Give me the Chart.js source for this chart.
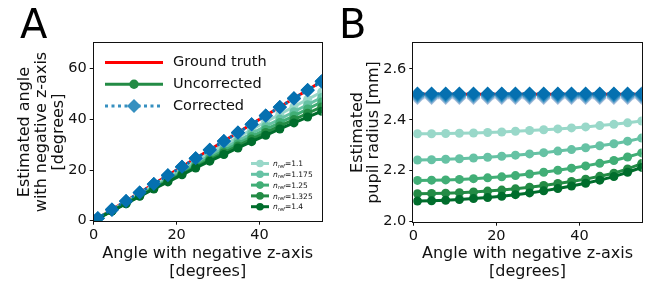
<!DOCTYPE html>
<html>
<head>
<meta charset="utf-8">
<script src="https://cdn.jsdelivr.net/npm/chart.js@4"></script>
<style>
  html, body { margin: 0; padding: 0; background: #fff; }
  #wrap { position: relative; width: 653px; height: 286px; }
  canvas { position: absolute; top: 0; }
</style>
</head>
<body>
<div id="wrap">
  <canvas id="chartA" width="330" height="286" style="left:0"></canvas>
  <canvas id="chartB" width="323" height="286" style="left:330px"></canvas>
</div>
<script>
// ─── DATA ───
const angles = [1, 4.4, 7.8, 11.1, 14.5, 17.9, 21.3, 24.6, 28, 31.4, 34.8, 38.1, 41.5, 44.9, 48.3, 51.6, 55];
const nRefs = ['1.1', '1.175', '1.25', '1.325', '1.4'];
const xTicks = [0, 20, 40];
const yTicksA = [0, 20, 40, 60];
const yTicksB = [2.0, 2.2, 2.4, 2.6];

// panel A - estimated angle [degrees]
const truthAngle = [1, 4.4, 7.8, 11.1, 14.5, 17.9, 21.3, 24.6, 28, 31.4, 34.8, 38.1, 41.5, 44.9, 48.3, 51.6, 55];
const uncorrAngle11 = [1.0, 4.2, 7.5, 10.7, 13.9, 17.1, 20.3, 23.5, 26.7, 29.8, 32.9, 36.0, 39.0, 42.0, 45.0, 47.9, 50.8];
const uncorrAngle1175 = [0.9, 4.0, 7.2, 10.3, 13.4, 16.5, 19.6, 22.6, 25.6, 28.6, 31.5, 34.4, 37.3, 40.1, 43.0, 45.8, 48.6];
const uncorrAngle125 = [0.9, 3.9, 7.0, 10.0, 13.0, 16.0, 18.9, 21.8, 24.7, 27.6, 30.4, 33.2, 36.0, 38.7, 41.4, 44.1, 46.8];
const uncorrAngle1325 = [0.9, 3.9, 6.8, 9.8, 12.7, 15.6, 18.4, 21.2, 24.0, 26.8, 29.5, 32.2, 34.8, 37.4, 39.9, 42.4, 44.9];
const uncorrAngle14 = [0.9, 3.8, 6.7, 9.6, 12.5, 15.3, 18.1, 20.8, 23.5, 26.1, 28.7, 31.2, 33.7, 36.2, 38.6, 40.9, 43.2];
const corrAngle11 = [0.9, 4.2, 7.6, 10.9, 14.3, 17.7, 21.0, 24.4, 27.8, 31.1, 34.5, 37.9, 41.2, 44.6, 48.0, 51.3, 54.7];
const corrAngle1175 = [0.9, 4.3, 7.6, 11.0, 14.3, 17.7, 21.1, 24.4, 27.8, 31.2, 34.6, 37.9, 41.3, 44.7, 48.1, 51.4, 54.8];
const corrAngle125 = [1.0, 4.3, 7.7, 11.0, 14.4, 17.8, 21.2, 24.5, 27.9, 31.3, 34.7, 38.0, 41.4, 44.8, 48.2, 51.5, 54.9];
const corrAngle1325 = [1.0, 4.4, 7.8, 11.1, 14.5, 17.9, 21.3, 24.6, 28.0, 31.4, 34.8, 38.1, 41.5, 44.9, 48.3, 51.6, 55.0];
const corrAngle14 = [1.0, 4.4, 7.8, 11.1, 14.5, 17.9, 21.3, 24.6, 28.0, 31.4, 34.8, 38.1, 41.5, 44.9, 48.3, 51.6, 55.0];

// panel B - estimated pupil radius [mm]
const truthRadius = [2.5, 2.5, 2.5, 2.5, 2.5, 2.5, 2.5, 2.5, 2.5, 2.5, 2.5, 2.5, 2.5, 2.5, 2.5, 2.5, 2.5];
const uncorrRadius11 = [2.345, 2.345, 2.346, 2.347, 2.348, 2.350, 2.352, 2.355, 2.358, 2.361, 2.364, 2.368, 2.372, 2.377, 2.382, 2.388, 2.395];
const uncorrRadius1175 = [2.242, 2.243, 2.245, 2.247, 2.250, 2.253, 2.257, 2.261, 2.266, 2.271, 2.277, 2.283, 2.290, 2.298, 2.306, 2.316, 2.328];
const uncorrRadius125 = [2.162, 2.163, 2.164, 2.166, 2.169, 2.172, 2.176, 2.181, 2.187, 2.194, 2.202, 2.210, 2.219, 2.229, 2.240, 2.254, 2.270];
const uncorrRadius1325 = [2.110, 2.111, 2.112, 2.114, 2.117, 2.120, 2.124, 2.129, 2.135, 2.142, 2.150, 2.158, 2.167, 2.178, 2.190, 2.207, 2.228];
const uncorrRadius14 = [2.081, 2.082, 2.084, 2.087, 2.091, 2.095, 2.100, 2.106, 2.113, 2.121, 2.130, 2.140, 2.151, 2.163, 2.177, 2.194, 2.213];
const corrRadius11 = [2.485, 2.485, 2.485, 2.485, 2.485, 2.485, 2.485, 2.485, 2.485, 2.485, 2.485, 2.485, 2.485, 2.485, 2.485, 2.485, 2.485];
const corrRadius1175 = [2.490, 2.490, 2.490, 2.490, 2.490, 2.490, 2.490, 2.490, 2.490, 2.490, 2.490, 2.490, 2.490, 2.490, 2.490, 2.490, 2.490];
const corrRadius125 = [2.495, 2.495, 2.495, 2.495, 2.495, 2.495, 2.495, 2.495, 2.495, 2.495, 2.495, 2.495, 2.495, 2.495, 2.495, 2.495, 2.495];
const corrRadius1325 = [2.500, 2.500, 2.500, 2.500, 2.500, 2.500, 2.500, 2.500, 2.500, 2.500, 2.500, 2.500, 2.500, 2.500, 2.500, 2.500, 2.500];
const corrRadius14 = [2.503, 2.503, 2.503, 2.503, 2.503, 2.503, 2.503, 2.503, 2.503, 2.503, 2.503, 2.503, 2.503, 2.503, 2.503, 2.503, 2.503];

const uncorrAngle = [uncorrAngle11, uncorrAngle1175, uncorrAngle125, uncorrAngle1325, uncorrAngle14];
const corrAngle = [corrAngle11, corrAngle1175, corrAngle125, corrAngle1325, corrAngle14];
const uncorrRadius = [uncorrRadius11, uncorrRadius1175, uncorrRadius125, uncorrRadius1325, uncorrRadius14];
const corrRadius = [corrRadius11, corrRadius1175, corrRadius125, corrRadius1325, corrRadius14];

// ─── STYLE ───
const FONT = 'DejaVu Sans';
const INK = '#111';
const greens = ['#99d8c9', '#66c2a4', '#41ae76', '#238b45', '#006d2c'];
const blues = ['#a6bddb', '#74a9cf', '#3690c0', '#1f7fb8', '#0570b0'];

const pts = ys => angles.map((x, i) => ({ x: x, y: ys[i] }));

function buildDatasets(truth, uncorr, corr) {
    const sets = [{
        data: pts(truth), borderColor: '#ff0000', borderWidth: 3, pointRadius: 0
    }];
    nRefs.forEach((n, i) => {
        sets.push({
            data: pts(uncorr[i]), borderColor: greens[i], backgroundColor: greens[i],
            borderWidth: 3, pointStyle: 'circle', pointRadius: 4.5, pointBorderWidth: 0
        });
        sets.push({
            data: pts(corr[i]), borderColor: blues[i], backgroundColor: blues[i],
            borderWidth: 2.5, borderDash: [2, 3], pointStyle: 'rectRot', pointRadius: 7, pointBorderWidth: 0
        });
    });
    // later series on top, as in matplotlib
    sets.forEach((d, i) => { d.order = sets.length - i; });
    return sets;
}

function xScale(height) {
    return {
        type: 'linear', min: 0, max: 55,
        afterBuildTicks: s => { s.ticks = xTicks.map(v => ({ value: v })); },
        afterFit: s => { s.height = height; },
        grid: { drawOnChartArea: false, tickLength: 4, color: INK },
        border: { display: false },
        ticks: { color: INK, padding: 2, font: { family: FONT, size: 14.5 } },
        title: {
            display: true, text: ['Angle with negative z-axis', '[degrees]'], color: INK,
            font: { family: FONT, size: 16, lineHeight: 1.15 }, padding: { top: 0, bottom: 5 }
        }
    };
}

function yScale(width, max, min, ticks, label, titlePad, fmt) {
    return {
        type: 'linear', min: min, max: max,
        afterBuildTicks: s => { s.ticks = ticks.map(v => ({ value: v })); },
        afterFit: s => { s.width = width; },
        grid: { drawOnChartArea: false, tickLength: 4, color: INK },
        border: { display: false },
        ticks: { color: INK, padding: 3, font: { family: FONT, size: 14.5 }, callback: fmt },
        title: {
            display: true, text: label, color: INK,
            font: { family: FONT, size: 16, lineHeight: 1.05 }, padding: { top: titlePad, bottom: 0 }
        }
    };
}

const framePlugin = {
    id: 'frame',
    afterDraw(chart, args, opts) {
        const { ctx, chartArea: a } = chart;
        ctx.save();
        ctx.strokeStyle = INK;
        ctx.lineWidth = 1;
        ctx.strokeRect(Math.round(a.left) - 0.5, Math.round(a.top) - 0.5,
            Math.round(a.right) - Math.round(a.left) + 1, Math.round(a.bottom) - Math.round(a.top) + 1);
        ctx.fillStyle = '#000';
        ctx.font = '40px "' + FONT + '"';
        ctx.textBaseline = 'alphabetic';
        ctx.fillText(opts.letter, opts.lx, 38);
        ctx.restore();
    }
};

function drawMarker(ctx, kind, x, y, r, color) {
    ctx.fillStyle = color;
    ctx.beginPath();
    if (kind === 'circle') {
        ctx.arc(x, y, r, 0, Math.PI * 2);
    } else {
        ctx.moveTo(x, y - r); ctx.lineTo(x + r, y); ctx.lineTo(x, y + r); ctx.lineTo(x - r, y); ctx.closePath();
    }
    ctx.fill();
}

const legendPlugin = {
    id: 'legendA',
    afterDraw(chart) {
        const ctx = chart.ctx;
        ctx.save();
        const rows = [
            { label: 'Ground truth', color: '#ff0000', dash: [], marker: null },
            { label: 'Uncorrected', color: '#238b45', dash: [], marker: 'circle' },
            { label: 'Corrected', color: '#3690c0', dash: [3, 3.5], marker: 'diamond' }
        ];
        rows.forEach((r, i) => {
            const y = 62.5 + i * 21.7;
            ctx.strokeStyle = r.color; ctx.lineWidth = 3; ctx.setLineDash(r.dash);
            ctx.beginPath(); ctx.moveTo(105, y); ctx.lineTo(163, y); ctx.stroke();
            ctx.setLineDash([]);
            if (r.marker) drawMarker(ctx, r.marker, 134, y, r.marker === 'circle' ? 4.7 : 7, r.color);
            ctx.fillStyle = INK; ctx.font = '14.5px "' + FONT + '"'; ctx.textBaseline = 'middle';
            ctx.fillText(r.label, 173, y);
        });
        // n_ref legend
        nRefs.forEach((n, i) => {
            const y = 163.5 + i * 10.8;
            ctx.strokeStyle = greens[i]; ctx.lineWidth = 3;
            ctx.beginPath(); ctx.moveTo(251, y); ctx.lineTo(269, y); ctx.stroke();
            drawMarker(ctx, 'circle', 260, y, 3.8, greens[i]);
            ctx.fillStyle = INK; ctx.textBaseline = 'alphabetic';
            let x = 273;
            ctx.font = 'italic 7.5px "' + FONT + '"';
            ctx.fillText('n', x, y + 2.7); x += ctx.measureText('n').width;
            ctx.font = 'italic 5.2px "' + FONT + '"';
            ctx.fillText('ref', x, y + 4); x += ctx.measureText('ref').width;
            ctx.font = '7.5px "' + FONT + '"';
            ctx.fillText('=' + n, x, y + 2.7);
        });
        ctx.restore();
    }
};

// ─── CHARTS ───
new Chart(document.getElementById('chartA'), {
    type: 'line',
    data: { datasets: buildDatasets(truthAngle, uncorrAngle, corrAngle) },
    options: {
        responsive: false, animation: false,
        layout: { padding: { left: 0, top: 43.3, right: 8.3, bottom: 0 } },
        plugins: { legend: { display: false }, tooltip: { enabled: false }, frame: { letter: 'A', lx: 20 } },
        elements: { line: { tension: 0 } },
        scales: {
            x: xScale(65.3),
            y: yScale(93.7, 70, 0, yTicksA, ['Estimated angle', 'with negative z-axis', '[degrees]'], 16.6, v => String(v))
        }
    },
    plugins: [framePlugin, legendPlugin]
});

new Chart(document.getElementById('chartB'), {
    type: 'line',
    data: { datasets: buildDatasets(truthRadius, uncorrRadius, corrRadius) },
    options: {
        responsive: false, animation: false,
        layout: { padding: { left: 0, top: 43.3, right: 11.3, bottom: 0 } },
        plugins: { legend: { display: false }, tooltip: { enabled: false }, frame: { letter: 'B', lx: 9 } },
        elements: { line: { tension: 0 } },
        scales: {
            x: xScale(64.3),
            y: yScale(83.3, 2.7, 2.0, yTicksB, ['Estimated', 'pupil radius [mm]'], 19.1, v => v.toFixed(1))
        }
    },
    plugins: [framePlugin]
});
</script>
</body>
</html>
